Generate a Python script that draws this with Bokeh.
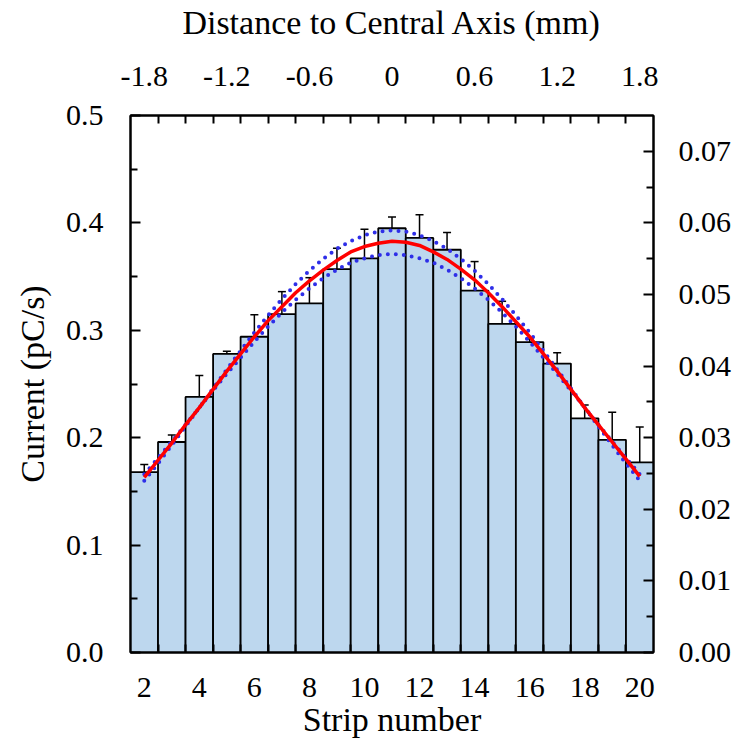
from bokeh.plotting import figure
from bokeh.models import Range1d, LinearAxis, FixedTicker, ColumnDataSource, Whisker, TeeHead
from bokeh.embed import file_html
from bokeh.resources import INLINE

# ---- data ----
strips = [2, 3, 4, 5, 6, 7, 8, 9, 10, 11, 12, 13, 14, 15, 16, 17, 18, 19, 20]
current = [0.168, 0.196, 0.238, 0.278, 0.294, 0.315, 0.325, 0.357, 0.367, 0.395,
           0.386, 0.375, 0.337, 0.306, 0.289, 0.269, 0.218, 0.198, 0.177]
current_err = [0.007, 0.0065, 0.020, 0.0025, 0.0205, 0.021, 0.024, 0.0195, 0.027, 0.0105,
               0.0215, 0.016, 0.027, 0.021, 0.0028, 0.010, 0.0124, 0.0256, 0.033]

# fitted curve and confidence band, read at half-strip steps
fit_x = [2, 2.5, 3, 3.5, 4, 4.5, 5, 5.5, 6, 6.5, 7, 7.5, 8, 8.5, 9, 9.5, 10, 10.5, 11,
         11.5, 12, 12.5, 13, 13.5, 14, 14.5, 15, 15.5, 16, 16.5, 17, 17.5, 18, 18.5,
         19, 19.5, 20]
fit_red = [0.163, 0.179, 0.195, 0.212, 0.228, 0.245, 0.262, 0.278, 0.294, 0.309,
           0.322, 0.335, 0.346, 0.356, 0.365, 0.373, 0.378, 0.381, 0.383,
           0.382, 0.379, 0.373, 0.366, 0.357, 0.347, 0.335, 0.322, 0.308, 0.294,
           0.278, 0.262, 0.245, 0.228, 0.212, 0.196, 0.180, 0.164]
fit_upper = [0.160, 0.176, 0.193, 0.2105, 0.228, 0.246, 0.2635, 0.281, 0.298, 0.314,
             0.329, 0.343, 0.3555, 0.3665, 0.376, 0.383, 0.3885, 0.392, 0.393,
             0.392, 0.3885, 0.383, 0.376, 0.3665, 0.3555, 0.343, 0.329, 0.314, 0.298,
             0.281, 0.2635, 0.246, 0.228, 0.2105, 0.193, 0.176, 0.160]
fit_lower = [0.166, 0.181, 0.1965, 0.212, 0.228, 0.244, 0.2595, 0.2745, 0.2895, 0.3035,
             0.3165, 0.3285, 0.339, 0.3485, 0.3565, 0.363, 0.367, 0.370, 0.371,
             0.370, 0.367, 0.363, 0.3565, 0.3485, 0.339, 0.3285, 0.3165, 0.3035, 0.2895,
             0.2745, 0.2595, 0.244, 0.228, 0.212, 0.1965, 0.181, 0.166]

bottom_ticks = [2, 4, 6, 8, 10, 12, 14, 16, 18, 20]
left_ticks = [0.0, 0.1, 0.2, 0.3, 0.4, 0.5]
right_ticks = [0.00, 0.01, 0.02, 0.03, 0.04, 0.05, 0.06, 0.07]
top_tick_values = [-1.8, -1.2, -0.6, 0.0, 0.6, 1.2, 1.8]
top_tick_labels = ["-1.8", "-1.2", "-0.6", "0", "0.6", "1.2", "1.8"]

FONT = "Liberation Serif"
TICK_FS = "30px"
TITLE_FS = "34px"

err_lo = [c - e for c, e in zip(current, current_err)]
err_hi = [c + e for c, e in zip(current, current_err)]
src = ColumnDataSource(dict(x=strips, y=current, lo=err_lo, hi=err_hi))
fit_src = ColumnDataSource(dict(x=fit_x, red=fit_red, up=fit_upper, low=fit_lower))

W, H = 739, 745
p = figure(width=W, height=H, output_backend="svg", toolbar_location=None,
           x_range=Range1d(1.5, 20.5), y_range=Range1d(0, 0.5),
           x_axis_location=None, y_axis_location=None,
           min_border_left=130, min_border_right=W - 653,
           min_border_top=114, min_border_bottom=H - 652)
p.grid.visible = False
p.outline_line_color = "black"
p.outline_line_width = 2
p.background_fill_color = "white"
p.border_fill_color = "white"

p.extra_x_ranges = {"mm": Range1d(-1.9, 1.9)}
p.extra_y_ranges = {"right": Range1d(0, 0.075)}

half_strips = [s + 0.5 for s in strips[:-1]]
mm_half = [round((h - 11) * 0.2, 2) for h in half_strips]


def style(ax, minor_len, major_len):
    ax.axis_line_width = 2
    ax.major_tick_line_width = 2
    ax.minor_tick_line_width = 2
    ax.major_tick_in = major_len
    ax.major_tick_out = 0
    ax.minor_tick_in = minor_len
    ax.minor_tick_out = 0
    ax.major_label_text_font = FONT
    ax.major_label_text_font_size = TICK_FS
    ax.major_label_text_color = "black"
    ax.axis_label_text_font = FONT
    ax.axis_label_text_font_size = TITLE_FS
    ax.axis_label_text_font_style = "normal"
    ax.axis_label_text_color = "black"


bottom = LinearAxis(ticker=FixedTicker(ticks=bottom_ticks, minor_ticks=half_strips),
                    axis_label="Strip number")
style(bottom, 8, 0)
bottom.major_label_standoff = 25
bottom.axis_label_standoff = 1
p.add_layout(bottom, "below")

top = LinearAxis(x_range_name="mm",
                 ticker=FixedTicker(ticks=top_tick_values, minor_ticks=mm_half),
                 axis_label="Distance to Central Axis (mm)")
style(top, 8, 0)
top.major_label_overrides = {v: l for v, l in zip(top_tick_values, top_tick_labels)}
top.major_label_standoff = 30
top.axis_label_standoff = 23
p.add_layout(top, "above")

left = LinearAxis(ticker=FixedTicker(ticks=left_ticks,
                                     minor_ticks=[t + 0.05 for t in left_ticks[:-1]]),
                  axis_label="Current (pC/s)")
style(left, 7, 10)
left.major_label_overrides = {v: f"{v:.1f}" for v in left_ticks}
left.major_label_standoff = 27
left.axis_label_standoff = 12
p.add_layout(left, "left")

right = LinearAxis(y_range_name="right",
                   ticker=FixedTicker(ticks=right_ticks,
                                      minor_ticks=[t + 0.005 for t in right_ticks]))
style(right, 7, 10)
right.major_label_overrides = {v: f"{v:.2f}" for v in right_ticks}
right.major_label_standoff = 25
p.add_layout(right, "right")

# bars
p.vbar(x="x", top="y", bottom=0, width=1.0, source=src,
       fill_color="#BDD7EE", line_color="black", line_width=1.8)

# error bars
w = Whisker(base="x", upper="hi", lower="lo", source=src,
            line_color="black", line_width=1.5,
            upper_head=TeeHead(size=8, line_color="black", line_width=1.5),
            lower_head=TeeHead(size=8, line_color="black", line_width=1.5))
p.add_layout(w)

# confidence bands (blue dotted)
p.line("x", "up", source=fit_src, line_color="#2E2EE8", line_width=4,
       line_dash="0 8", line_cap="round")
p.line("x", "low", source=fit_src, line_color="#2E2EE8", line_width=4,
       line_dash="0 8", line_cap="round")

# fit (red)
p.line("x", "red", source=fit_src, line_color="#FF0000", line_width=3.5)

open("out.html", "w").write(file_html(p, INLINE))
